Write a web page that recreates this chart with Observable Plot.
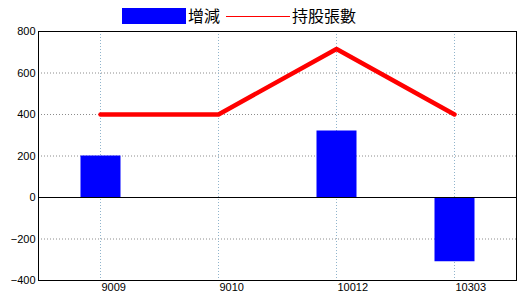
<!DOCTYPE html>
<html>
<head>
<meta charset="utf-8">
<script src="https://cdn.jsdelivr.net/npm/d3@7"></script>
<script src="https://cdn.jsdelivr.net/npm/@observablehq/plot@0.6"></script>
<style>
  html, body { margin: 0; padding: 0; background: white; }
  #wrap { position: relative; width: 520px; height: 300px; overflow: hidden; }
  .lg { position: absolute; font-family: "Noto Sans CJK TC", sans-serif; font-size: 16px; line-height: 16px; color: black; }
</style>
</head>
<body>
<div id="wrap">
  <div class="lg" style="left:122px;top:8px;width:64px;height:16px;background:#0000ff;"></div>
  <div class="lg" style="left:188px;top:7px;">增減</div>
  <div class="lg" style="left:226px;top:16px;width:64px;height:1px;background:#ff0000;"></div>
  <div class="lg" style="left:292px;top:7px;">持股張數</div>
</div>
<script>
const periods = ["9009", "9010", "10012", "10303"];
const changes = [200, 0, 320, -310];
const holdings = [400, 400, 716, 400];
const yTicks = [-400, -200, 0, 200, 400, 600, 800];
const gridTicks = [-200, 200, 400, 600];

const rows = periods.map((p, i) => ({period: p, change: changes[i], holding: holdings[i]}));

const chart = Plot.plot({
  width: 520,
  height: 300,
  marginLeft: 38,
  marginRight: 4,
  marginTop: 31,
  marginBottom: 20,
  style: {fontFamily: "'Liberation Sans', Arial, sans-serif", fontSize: "11px", color: "black", background: "transparent", overflow: "visible"},
  x: {type: "point", domain: periods, padding: 0.525},
  y: {domain: [-400, 800]},
  marks: [
    Plot.gridY(gridTicks, {stroke: "#8c8c8c", strokeOpacity: 1, strokeDasharray: "1,2"}),
    Plot.gridX(periods, {stroke: "#90b4cc", strokeOpacity: 1, strokeDasharray: "1,2"}),
    Plot.ruleX(rows, {x: "period", y1: 0, y2: "change", stroke: "#0000ff", strokeWidth: 40}),
    Plot.ruleY([0], {stroke: "black", strokeWidth: 1}),
    Plot.line(rows, {x: "period", y: "holding", stroke: "#ff0000", strokeWidth: 4.5, strokeLinecap: "round", strokeLinejoin: "round"}),
    Plot.frame({stroke: "black"}),
    Plot.axisY(yTicks, {tickSize: 0, tickPadding: 3, label: null}),
    Plot.axisX(periods, {tickSize: 0, tickPadding: 3, textAnchor: "start", dx: 1, label: null})
  ]
});
chart.style.position = "absolute";
chart.style.left = "0px";
chart.style.top = "0px";
document.getElementById("wrap").appendChild(chart);
</script>
</body>
</html>
